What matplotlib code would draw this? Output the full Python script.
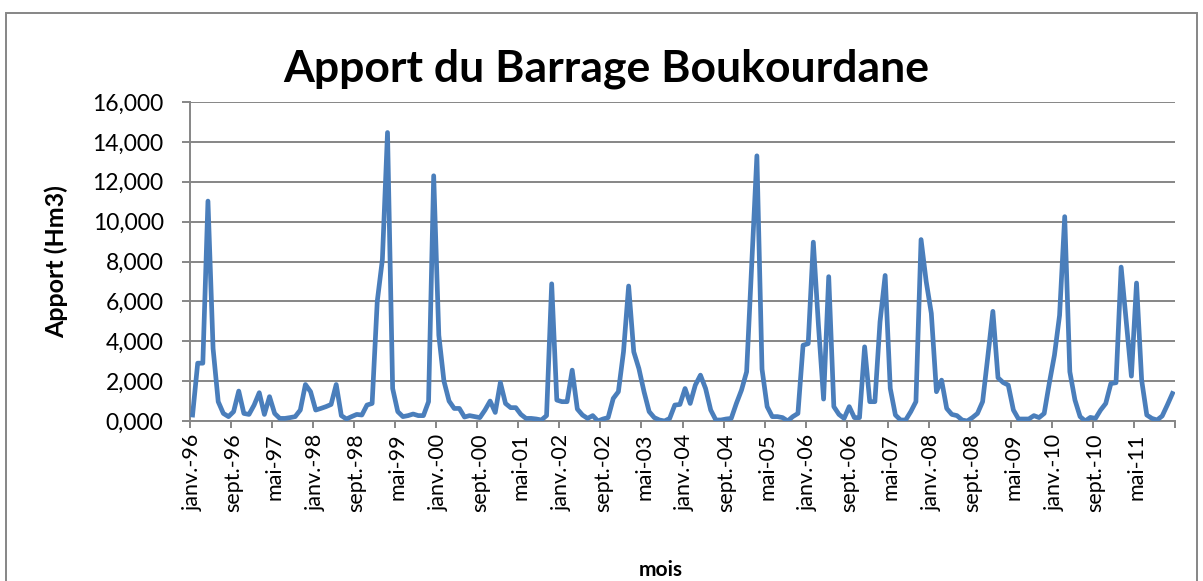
import numpy as np
import matplotlib
matplotlib.use('Agg')
import matplotlib.pyplot as plt
from matplotlib.patches import Rectangle

plt.rcParams['font.family'] = ['Lato', 'DejaVu Sans']

# monthly inflow (Hm3), one list per year
apport_1996 = [0.30, 2.90, 2.90, 11.03, 3.63, 0.97, 0.38, 0.22, 0.47, 1.50, 0.38, 0.33]
apport_1997 = [0.80, 1.42, 0.33, 1.22, 0.38, 0.13, 0.13, 0.17, 0.22, 0.55, 1.83, 1.47]
apport_1998 = [0.55, 0.63, 0.72, 0.83, 1.83, 0.27, 0.10, 0.22, 0.33, 0.30, 0.80, 0.88]
apport_1999 = [6.00, 8.10, 14.47, 1.63, 0.47, 0.22, 0.27, 0.35, 0.27, 0.27, 0.97, 12.30]
apport_2000 = [4.30, 2.00, 1.00, 0.63, 0.63, 0.20, 0.27, 0.22, 0.17, 0.55, 1.00, 0.43]
apport_2001 = [1.93, 0.88, 0.67, 0.67, 0.33, 0.13, 0.13, 0.10, 0.05, 0.27, 6.88, 1.05]
apport_2002 = [0.97, 0.97, 2.55, 0.60, 0.30, 0.13, 0.27, 0.00, 0.10, 0.17, 1.13, 1.47]
apport_2003 = [3.47, 6.77, 3.47, 2.63, 1.47, 0.47, 0.17, 0.05, 0.00, 0.13, 0.80, 0.83]
apport_2004 = [1.63, 0.88, 1.80, 2.30, 1.63, 0.55, 0.05, 0.05, 0.10, 0.13, 0.88, 1.55]
apport_2005 = [2.47, 7.90, 13.30, 2.60, 0.72, 0.22, 0.22, 0.17, 0.00, 0.22, 0.38, 3.80]
apport_2006 = [3.88, 8.97, 4.80, 1.10, 7.24, 0.72, 0.33, 0.13, 0.72, 0.17, 0.17, 3.72]
apport_2007 = [0.97, 0.97, 4.97, 7.30, 1.63, 0.30, 0.05, 0.05, 0.47, 0.97, 9.10, 7.00]
apport_2008 = [5.40, 1.47, 2.05, 0.63, 0.33, 0.27, 0.05, 0.00, 0.17, 0.38, 0.97, 3.20]
apport_2009 = [5.50, 2.17, 1.93, 1.80, 0.55, 0.10, 0.10, 0.10, 0.27, 0.17, 0.38, 1.90]
apport_2010 = [3.30, 5.30, 10.25, 2.47, 1.05, 0.22, 0.00, 0.18, 0.13, 0.55, 0.88, 1.88]
apport_2011 = [1.92, 7.72, 5.00, 2.25, 6.92, 2.05, 0.30, 0.13, 0.05, 0.25, 0.80, 1.38]

years = list(range(1996, 2012))
mois_fr = ['janv.', 'févr.', 'mars', 'avr.', 'mai', 'juin',
           'juil.', 'août', 'sept.', 'oct.', 'nov.', 'déc.']

apport = np.concatenate([apport_1996, apport_1997, apport_1998, apport_1999,
                         apport_2000, apport_2001, apport_2002, apport_2003,
                         apport_2004, apport_2005, apport_2006, apport_2007,
                         apport_2008, apport_2009, apport_2010, apport_2011])
labels = ['%s-%02d' % (mois_fr[i % 12], years[i // 12] % 100) for i in range(len(apport))]
x = np.arange(len(apport))

fig = plt.figure(figsize=(12.03, 5.81), dpi=100)
ax = fig.add_axes([190/1203, 1 - 421/581, 985/1203, 319/581])

grid_col = '#868686'
ax.plot(x, apport, color='#4A7EBB', lw=3.4, solid_joinstyle='round', zorder=3)

ax.set_xlim(-0.5, len(apport) - 0.5)
ax.set_ylim(0, 16)
ax.set_yticks(np.arange(0, 17, 2))
ax.set_yticklabels([('%.3f' % v).replace('.', ',') for v in np.arange(0, 17, 2)])
ax.yaxis.grid(True, color=grid_col, lw=1.4)
ax.set_axisbelow(True)

ax.set_xticks(x[::8])
ax.set_xticklabels(labels[::8], rotation=90, va='top', ha='center')
ax.set_xticks(np.arange(-0.5, len(apport), 8), minor=True)
ax.tick_params(axis='x', which='major', length=0, pad=9, labelsize=15.5)
ax.tick_params(axis='x', which='minor', length=5, width=1.4, color=grid_col)
ax.tick_params(axis='y', length=6, width=1.4, color=grid_col, labelsize=16.5, pad=13)

for s in ['top', 'right']:
    ax.spines[s].set_visible(False)
for s in ['left', 'bottom']:
    ax.spines[s].set_color(grid_col)
    ax.spines[s].set_linewidth(1.4)

fig.text(0.504, 0.859, 'Apport du Barrage Boukourdane', ha='center', va='baseline',
         fontsize=32, fontweight='bold')
fig.text(0.047, 0.55, 'Apport (Hm3)', rotation=90, ha='center', va='center',
         fontsize=18, fontweight='bold')
fig.text(0.549, 0.019, 'mois', ha='center', va='center', fontsize=15, fontweight='bold')

fig.patches.append(Rectangle((6/1203, -0.05), 1191/1203, 1.05 - 13/581,
                             transform=fig.transFigure, fill=False,
                             edgecolor='#868686', lw=1.4))

fig.savefig('out.png', dpi=100)
